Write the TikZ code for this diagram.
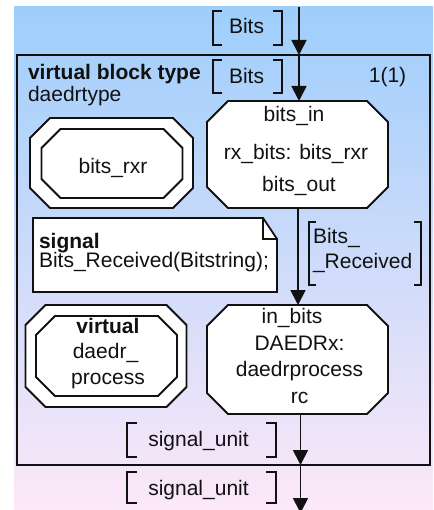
\documentclass[tikz,border=0pt]{standalone}
\usepackage{fontspec}
\setmainfont{Liberation Sans}
\usetikzlibrary{arrows.meta}
\definecolor{bgtop}{RGB}{158,206,252}
\definecolor{bgbot}{RGB}{252,232,248}
\definecolor{ink}{RGB}{17,17,17}
\newcommand\drawocta[3][]{%
  \draw[oct,#1] ([xshift=#3]#2.north west) -- ([xshift=-#3]#2.north east)
    -- ([yshift=-#3]#2.north east) -- ([yshift=#3]#2.south east)
    -- ([xshift=-#3]#2.south east) -- ([xshift=#3]#2.south west)
    -- ([yshift=#3]#2.south west) -- ([yshift=-#3]#2.north west) -- cycle;}
\newcommand\drawbrk[2]{%
  \draw[brk] ([xshift=#2]#1.north west) -- (#1.north west) -- (#1.south west) -- ([xshift=#2]#1.south west);
  \draw[brk] ([xshift=-#2]#1.north east) -- (#1.north east) -- (#1.south east) -- ([xshift=-#2]#1.south east);}
\begin{document}
\begin{tikzpicture}[x=1pt,y=-1pt,
  every node/.style={inner sep=0pt, outer sep=0pt, font=\fontsize{21pt}{25pt}\selectfont, text=ink},
  oct/.style={draw=ink, line width=1.8pt, fill=white},
  brk/.style={draw=ink, line width=1.8pt},
  flow/.style={draw=ink, line width=1.8pt, -{Triangle[width=15pt,length=15pt]}},
  lbl/.style={anchor=base},
  lbll/.style={anchor=base west}]
\useasboundingbox (0,0) rectangle (433,510);
\shade[top color=bgtop, bottom color=bgbot] (14,7) rectangle (433,510);
% frame
\node[draw=ink, line width=2.2pt, minimum width=413pt, minimum height=410pt] (frame) at (223.5,260) {};
\node[lbll] (hdr1) at (28,79.5) {\bfseries virtual block type};
\node[lbll] (hdr2) at (28,102) {daedrtype};
\node[lbl] (page) at (387.5,83) {1(1)};
% bits_rxr type
\node[minimum width=163pt, minimum height=90pt] (rxrout) at (111.5,163) {};
\node[minimum width=141pt, minimum height=69pt] (rxrin) at (112,163.5) {};
\drawocta{rxrout}{20pt}
\drawocta{rxrin}{19pt}
\node[lbl] (rxrt) at (113,173.5) {bits\_rxr};
% bits_in process
\node[minimum width=181pt, minimum height=107pt] (bitsin) at (297.5,154.5) {};
\drawocta{bitsin}{21pt}
\node[lbl] (bi1) at (294,122) {bits\_in};
\node[lbl] (bi2) at (296,160) {rx\_bits: bits\_rxr};
\node[lbl] (bi3) at (299,192) {bits\_out};
% note
\node[minimum width=244pt, minimum height=74pt] (note) at (155,255) {};
\draw[oct] (note.north west) -- ([xshift=-14pt]note.north east) -- ([yshift=-21pt]note.north east)
  -- (note.south east) -- (note.south west) -- cycle;
\draw[brk, line width=1.5pt] ([xshift=-14pt]note.north east) -- ([xshift=-14pt,yshift=-21pt]note.north east) -- ([yshift=-21pt]note.north east);
\node[lbll] (n1) at (39,248) {\bfseries signal};
\node[lbll] (n2) at (39,267) {Bits\_Received(Bitstring);};
% virtual process type
\node[minimum width=161pt, minimum height=102pt] (procout) at (106,356) {};
\node[minimum width=141pt, minimum height=80pt] (procin) at (106.5,356) {};
\drawocta{procout}{20pt}
\drawocta{procin}{19pt}
\node[lbl] (p1) at (108,333) {\bfseries virtual};
\node[lbl] (p2) at (105.5,358.5) {daedr\_};
\node[lbl] (p3) at (108,384) {process};
% DAEDRx process
\node[minimum width=181pt, minimum height=109pt] (daedr) at (297.5,359.5) {};
\drawocta{daedr}{21pt}
\node[lbl] (d1) at (292,323.5) {in\_bits};
\node[lbl] (d2) at (299.5,350) {DAEDRx:};
\node[lbl] (d3) at (299.5,376.5) {daedrprocess};
\node[lbl] (d4) at (299.5,403) {rc};
% signal list labels
\node[minimum width=69pt, minimum height=34pt] (bA) at (247.5,28) {};
\drawbrk{bA}{9pt}
\node[lbl] (bAt) at (246.5,33.5) {Bits};
\node[minimum width=69pt, minimum height=33pt] (bB) at (247.5,76.5) {};
\drawbrk{bB}{9pt}
\node[lbl] (bBt) at (246.5,83.5) {Bits};
\node[minimum width=112pt, minimum height=63pt] (bC) at (365,253.5) {};
\drawbrk{bC}{7pt}
\node[lbll] (bCt1) at (313,243.5) {Bits\_};
\node[lbll] (bCt2) at (313,268.5) {\_Received};
\node[minimum width=149pt, minimum height=34pt] (sA) at (201.5,440) {};
\drawbrk{sA}{10pt}
\node[lbl] (sAt) at (198.5,446.7) {signal\_unit};
\node[minimum width=149pt, minimum height=31pt] (sB) at (201.5,487.5) {};
\drawbrk{sB}{10pt}
\node[lbl] (sBt) at (198.5,495.5) {signal\_unit};
% flows
\coordinate (topx) at (299,7);
\draw[flow] (topx) -- (topx |- frame.north);
\draw[flow] (topx |- frame.north) -- (topx |- bitsin.north);
\coordinate (midx) at (298,0);
\draw[flow] (bitsin.south -| midx) -- (daedr.north -| midx);
\coordinate (lowx) at (300.5,0);
\draw[flow] (daedr.south -| lowx) -- (frame.south -| lowx);
\coordinate (botend) at (300.5,513);
\draw[flow] (frame.south -| lowx) -- (botend);
\end{tikzpicture}
\end{document}
